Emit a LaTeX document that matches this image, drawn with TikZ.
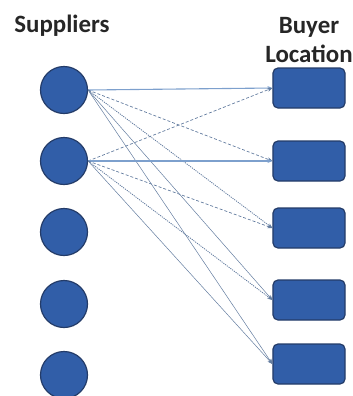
\documentclass[tikz,border=0pt]{standalone}
\usepackage{fontspec}
\setmainfont{Carlito}
\usetikzlibrary{arrows.meta,positioning}
\definecolor{nodeblue}{RGB}{49,94,168}
\definecolor{edgeblue}{RGB}{36,60,105}
\definecolor{linkblue}{RGB}{125,160,205}
\definecolor{linkgray}{RGB}{100,125,160}

\begin{document}
\begin{tikzpicture}[x=1bp, y=-1bp,
  supplier/.style={circle, fill=nodeblue, draw=edgeblue, line width=1.2bp, minimum size=47bp, inner sep=0pt},
  buyer/.style={rectangle, rounded corners=5bp, fill=nodeblue, draw=edgeblue, line width=1.2bp, minimum width=72bp, minimum height=40bp, inner sep=0pt},
  heading/.style={font=\fontsize{25}{30}\selectfont\bfseries, text=black!85, inner sep=0pt},
  link/.style={line width=0.7bp, -{Stealth[length=5bp, width=4bp]}},
  direct/.style={link, linkblue, line width=1.1bp},
  alt/.style={link, linkgray, dashed, dash pattern=on 3bp off 2bp},
  far/.style={link, linkgray, line width=0.8bp, dash pattern=on 1.2bp off 1bp},
  thin/.style={link, linkgray, line width=0.5bp}]
\useasboundingbox (0,0) rectangle (353,396);

% column headings
\node[heading] (suptitle) at (62,26) {Suppliers};
\node[heading, align=center] (buytitle) at (309,40) {Buyer\\Location};

% suppliers and buyer locations
\foreach \i/\y in {1/90,2/161,3/232,4/304,5/375} {
  \node[supplier] (s\i) at (64,\y) {};
}
\foreach \i/\y in {1/88,2/161,3/228,4/300,5/364} {
  \node[buyer] (b\i) at (309,\y) {};
}

% links from supplier 1
\draw[direct] (s1.east) -- (b1.west);
\draw[alt] (s1.east) -- (b2.west);
\draw[far] (s1.east) -- (b3.west);
\draw[thin] (s1.east) -- (b4.west);
\draw[thin] (s1.east) -- (b5.west);

% links from supplier 2
\draw[alt] (s2.east) -- (b1.west);
\draw[direct] (s2.east) -- (b2.west);
\draw[alt] (s2.east) -- (b3.west);
\draw[far] (s2.east) -- (b4.west);
\draw[thin] (s2.east) -- (b5.west);
\end{tikzpicture}
\end{document}
